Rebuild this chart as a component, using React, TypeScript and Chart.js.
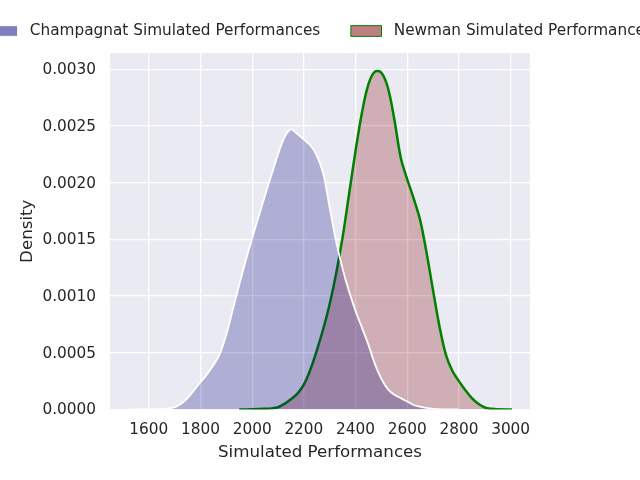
import React, { useEffect, useRef } from "react";
import { Chart, registerables } from "chart.js";

Chart.register(...registerables);

const champX = [1525, 1575, 1625, 1675, 1700, 1725, 1750, 1775, 1800, 1825, 1850, 1875, 1900, 1925, 1950, 1975, 2000, 2025, 2050, 2075, 2100, 2125, 2150, 2175, 2200, 2225, 2250, 2275, 2300, 2325, 2350, 2375, 2400, 2425, 2450, 2475, 2500, 2525, 2550, 2575, 2600, 2625, 2650, 2675, 2700, 2750, 2800];
const champY = [0, 0, 0.000003, 0.00001, 0.00002, 0.00005, 0.0001, 0.00017, 0.00024, 0.00031, 0.00039, 0.00049, 0.00066, 0.00088, 0.0011, 0.00131, 0.00151, 0.0017, 0.00189, 0.00207, 0.00225, 0.0024, 0.00247, 0.00243, 0.00238, 0.00233, 0.00224, 0.00208, 0.00178, 0.00148, 0.00124, 0.00104, 0.00087, 0.00072, 0.00057, 0.0004, 0.00027, 0.00018, 0.00013, 0.0001, 0.00007, 0.00004, 0.000025, 0.000015, 0.000006, 0.000001, 0];

const newmanX = [1950, 2000, 2050, 2075, 2100, 2125, 2150, 2175, 2200, 2225, 2250, 2275, 2300, 2325, 2350, 2375, 2400, 2425, 2450, 2475, 2500, 2525, 2550, 2575, 2600, 2625, 2650, 2675, 2700, 2725, 2750, 2775, 2800, 2825, 2850, 2875, 2900, 2925, 2950, 3005];
const newmanY = [0, 0.000002, 0.000006, 0.00001, 0.00002, 0.00005, 0.00009, 0.00014, 0.00022, 0.00035, 0.00052, 0.00071, 0.00093, 0.0012, 0.00152, 0.0019, 0.00228, 0.00262, 0.00287, 0.00298, 0.00297, 0.00284, 0.00256, 0.00222, 0.00203, 0.00186, 0.00167, 0.00138, 0.00105, 0.00073, 0.00048, 0.00034, 0.00025, 0.00017, 0.0001, 0.00005, 0.000018, 0.000006, 0.000002, 0];

const seriesLabels = ["Champagnat Simulated Performances", "Newman Simulated Performances"];
const xTickValues = [1600, 1800, 2000, 2200, 2400, 2600, 2800, 3000];
const yTickValues = [0, 0.0005, 0.001, 0.0015, 0.002, 0.0025, 0.003];
const xLabel = "Simulated Performances";
const yLabel = "Density";

const TEXT = "#262626";
const FONT = '"DejaVu Sans", "Liberation Sans", sans-serif';

const legendFills = ["rgba(0,0,128,0.5)", "rgba(128,0,0,0.5)"];
const legendEdges = ["#ffffff", "#008000"];

const bgPlugin = {
  id: "bg",
  beforeDraw(chart: any) {
    const { ctx, chartArea } = chart;
    ctx.save();
    ctx.fillStyle = "#ffffff";
    ctx.fillRect(0, 0, chart.width, chart.height);
    ctx.fillStyle = "#eaeaf2";
    ctx.fillRect(chartArea.left, chartArea.top, chartArea.right - chartArea.left, chartArea.bottom - chartArea.top);
    ctx.restore();
  },
};

const legendPlugin = {
  id: "customLegend",
  afterDraw(chart: any) {
    const ctx = chart.ctx;
    ctx.save();
    ctx.font = `15.3px ${FONT}`;
    const patchW = 30.6, patchH = 10.7, gap = 12.2, colSp = 30.6;
    const widths = seriesLabels.map((l) => ctx.measureText(l).width);
    const total = widths.reduce((a, w) => a + patchW + gap + w, 0) + colSp * (seriesLabels.length - 1);
    let x = chart.width / 2 - total / 2;
    const cy = 31;
    seriesLabels.forEach((l, i) => {
      ctx.fillStyle = legendFills[i];
      ctx.fillRect(x, cy - patchH / 2, patchW, patchH);
      ctx.strokeStyle = legendEdges[i];
      ctx.lineWidth = 1;
      ctx.strokeRect(x, cy - patchH / 2, patchW, patchH);
      ctx.fillStyle = TEXT;
      ctx.textBaseline = "middle";
      ctx.textAlign = "left";
      ctx.fillText(l, x + patchW + gap, cy);
      x += patchW + gap + widths[i] + colSp;
    });
    ctx.restore();
  },
};

export default function App() {
  const ref = useRef<HTMLCanvasElement>(null);
  useEffect(() => {
    if (!ref.current) return;
    const chart = new Chart(ref.current, {
      type: "line",
      data: {
        datasets: [
          {
            label: seriesLabels[0],
            data: champX.map((x, i) => ({ x, y: champY[i] })),
            borderColor: "#ffffff",
            borderWidth: 1.8,
            backgroundColor: "rgba(0,0,128,0.25)",
            fill: "origin",
            pointRadius: 0,
            tension: 0.35,
          },
          {
            label: seriesLabels[1],
            data: newmanX.map((x, i) => ({ x, y: newmanY[i] })),
            borderColor: "#008000",
            borderWidth: 2.5,
            backgroundColor: "rgba(128,0,0,0.25)",
            fill: "origin",
            pointRadius: 0,
            tension: 0.35,
          },
        ],
      },
      options: {
        animation: false,
        responsive: false,
        layout: { padding: { left: 0, right: 110, top: 53, bottom: 0 } },
        plugins: { legend: { display: false }, tooltip: { enabled: false } },
        scales: {
          x: {
            type: "linear",
            min: 1450,
            max: 3075,
            afterBuildTicks: (scale: any) => {
              scale.ticks = xTickValues.map((v) => ({ value: v }));
            },
            afterFit: (scale: any) => {
              scale.height = 70.5;
            },
            grid: { color: "#ffffff", lineWidth: 1.3, drawTicks: false },
            border: { display: false },
            ticks: {
              color: TEXT,
              font: { family: FONT, size: 15.3 },
              padding: 11,
              maxRotation: 0,
              autoSkip: false,
              callback: (v: any) => String(v),
            },
            title: {
              display: true,
              text: xLabel,
              color: TEXT,
              font: { family: FONT, size: 16.7 },
              padding: { top: 0, bottom: 17.5 },
            },
          },
          y: {
            type: "linear",
            min: 0,
            max: 0.003144,
            afterBuildTicks: (scale: any) => {
              scale.ticks = yTickValues.map((v) => ({ value: v }));
            },
            afterFit: (scale: any) => {
              scale.width = 110;
            },
            grid: { color: "#ffffff", lineWidth: 1.3, drawTicks: false },
            border: { display: false },
            ticks: {
              color: TEXT,
              font: { family: FONT, size: 15.3 },
              padding: 14,
              labelOffset: 1,
              autoSkip: false,
              callback: (v: any) => Number(v).toFixed(4),
            },
            title: {
              display: true,
              text: yLabel,
              color: TEXT,
              font: { family: FONT, size: 16.7 },
              padding: { top: 18, bottom: 0 },
            },
          },
        },
      },
      plugins: [bgPlugin, legendPlugin],
    } as any);
    return () => chart.destroy();
  }, []);
  return (
    <div style={{ position: "fixed", left: 0, top: 0, width: 640, height: 480 }}>
      <canvas ref={ref} width={640} height={480} />
    </div>
  );
}
